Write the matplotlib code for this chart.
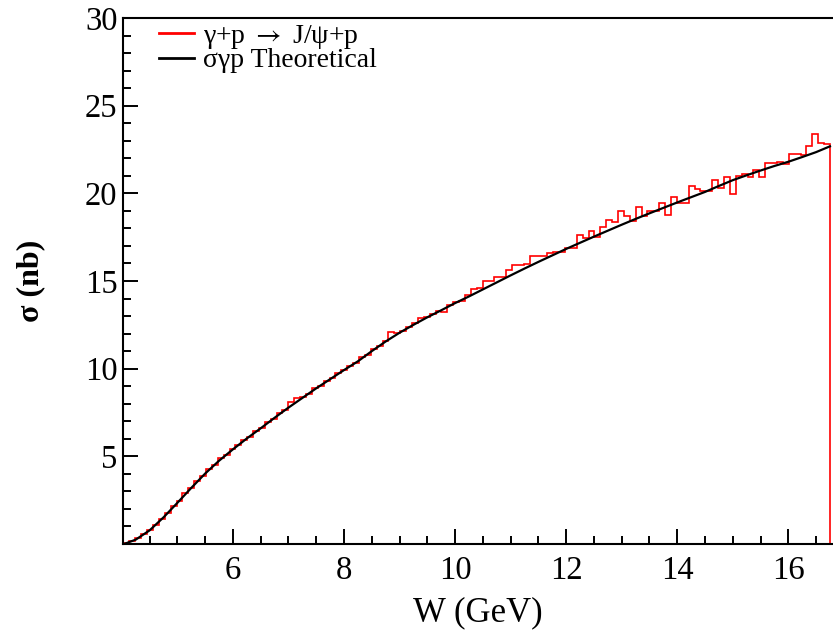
import matplotlib
matplotlib.use("Agg")
import matplotlib.pyplot as plt
import numpy as np
from matplotlib.ticker import MultipleLocator, FixedLocator

plt.rcParams['font.family'] = ['Liberation Serif', 'DejaVu Serif']
plt.rcParams['mathtext.fontset'] = 'stix'

# histogram: 120 bins between threshold and 16.75 GeV
w_lo = 4.03
w_hi = 16.75
hist_sigma = [
    0.05, 0.17, 0.33, 0.55, 0.80, 1.06, 1.43, 1.74, 2.18, 2.47,
    2.90, 3.18, 3.58, 3.86, 4.27, 4.50, 4.88, 5.08, 5.42, 5.62,
    5.95, 6.13, 6.44, 6.62, 6.95, 7.12, 7.46, 7.62, 8.08, 8.30,
    8.38, 8.56, 8.87, 9.02, 9.31, 9.46, 9.76, 9.90, 10.18, 10.33,
    10.64, 10.80, 11.12, 11.28, 11.60, 12.10, 12.05, 12.15, 12.40, 12.60,
    12.88, 12.95, 13.12, 13.30, 13.26, 13.62, 13.83, 13.84, 14.20, 14.55,
    14.62, 14.98, 15.02, 15.20, 15.22, 15.62, 15.90, 15.92, 15.95, 16.42,
    16.40, 16.40, 16.59, 16.68, 16.68, 16.88, 16.88, 17.64, 17.45, 17.88,
    17.51, 18.08, 18.49, 18.34, 19.02, 18.68, 18.44, 19.22, 18.72, 19.01,
    19.02, 19.45, 18.78, 19.79, 19.45, 19.45, 20.43, 20.25, 20.11, 20.15,
    20.78, 20.30, 20.93, 19.98, 21.00, 21.12, 20.93, 21.31, 20.93, 21.73,
    21.73, 21.76, 21.67, 22.26, 22.26, 22.20, 22.68, 23.36, 22.87, 22.83,
]

# theoretical curve
theo_w = [4.04, 4.25, 4.5, 4.75, 5.0, 5.25, 5.5, 5.75, 6.0, 6.25, 6.5, 6.75,
          7.0, 7.25, 7.5, 7.75, 8.0, 8.25, 8.5, 8.75, 9.0, 9.25, 9.5, 9.75,
          10.0, 10.25, 10.5, 10.75, 11.0, 11.25, 11.5, 11.75, 12.0, 12.25,
          12.5, 12.75, 13.0, 13.25, 13.5, 13.75, 14.0, 14.25, 14.5, 14.75,
          15.0, 15.25, 15.5, 15.75, 16.0, 16.25, 16.5, 16.75]
theo_sigma = [0.0, 0.25, 0.78, 1.52, 2.35, 3.2, 4.02, 4.75, 5.4, 6.02, 6.6, 7.2,
              7.78, 8.33, 8.88, 9.4, 9.92, 10.42, 11.0, 11.55, 12.05, 12.5, 12.93, 13.33,
              13.74, 14.12, 14.52, 14.92, 15.32, 15.71, 16.09, 16.46, 16.83, 17.18,
              17.53, 17.87, 18.21, 18.54, 18.86, 19.17, 19.48, 19.78, 20.08, 20.42,
              20.75, 21.03, 21.3, 21.56, 21.8, 22.07, 22.35, 22.68]

x_ticks = [6, 8, 10, 12, 14, 16]
y_ticks = [5, 10, 15, 20, 25, 30]

fig = plt.figure(figsize=(8.33, 6.31), dpi=100)
ax = fig.add_axes([123 / 833, 1 - 544 / 631, 1 - 123 / 833, 526 / 631])

edges = np.linspace(w_lo, w_hi, len(hist_sigma) + 1)
ax.stairs(hist_sigma, edges, color='red', lw=1.2,
          label=r'γ+p $\rightarrow$ J/ψ+p', zorder=2)
ax.plot(theo_w, theo_sigma, color='black', lw=1.6, label='σγp Theoretical', zorder=3)

ax.set_xlim(4.02, 16.805)
ax.set_ylim(0, 30)

ax.xaxis.set_major_locator(FixedLocator(x_ticks))
ax.xaxis.set_minor_locator(MultipleLocator(0.5))
ax.yaxis.set_major_locator(FixedLocator(y_ticks))
ax.yaxis.set_minor_locator(MultipleLocator(1))
ax.tick_params(which='both', direction='in', top=False, right=False, width=1.4,
               labelsize=23.5)
ax.tick_params(which='major', length=10.5)
ax.tick_params(which='minor', length=5.5)
ax.tick_params(axis='x', pad=8)
ax.tick_params(axis='y', pad=4)

for side in ['left', 'bottom', 'top']:
    ax.spines[side].set_linewidth(1.5)
ax.spines['right'].set_visible(False)

ax.set_xlabel('W (GeV)', fontsize=25)
ax.xaxis.set_label_coords(0.5, -0.1)
ax.set_ylabel('σ (nb)', fontsize=23, fontweight='bold')
ax.yaxis.set_label_coords(-0.11, 0.5)

leg = ax.legend(loc='upper left', bbox_to_anchor=(0.035, 1.012), frameon=False,
                fontsize=20, handlelength=1.25, handletextpad=0.35,
                labelspacing=-0.1, borderaxespad=0.0)
for line in leg.get_lines():
    line.set_linewidth(2.0)

fig.savefig('out.png', dpi=100)
